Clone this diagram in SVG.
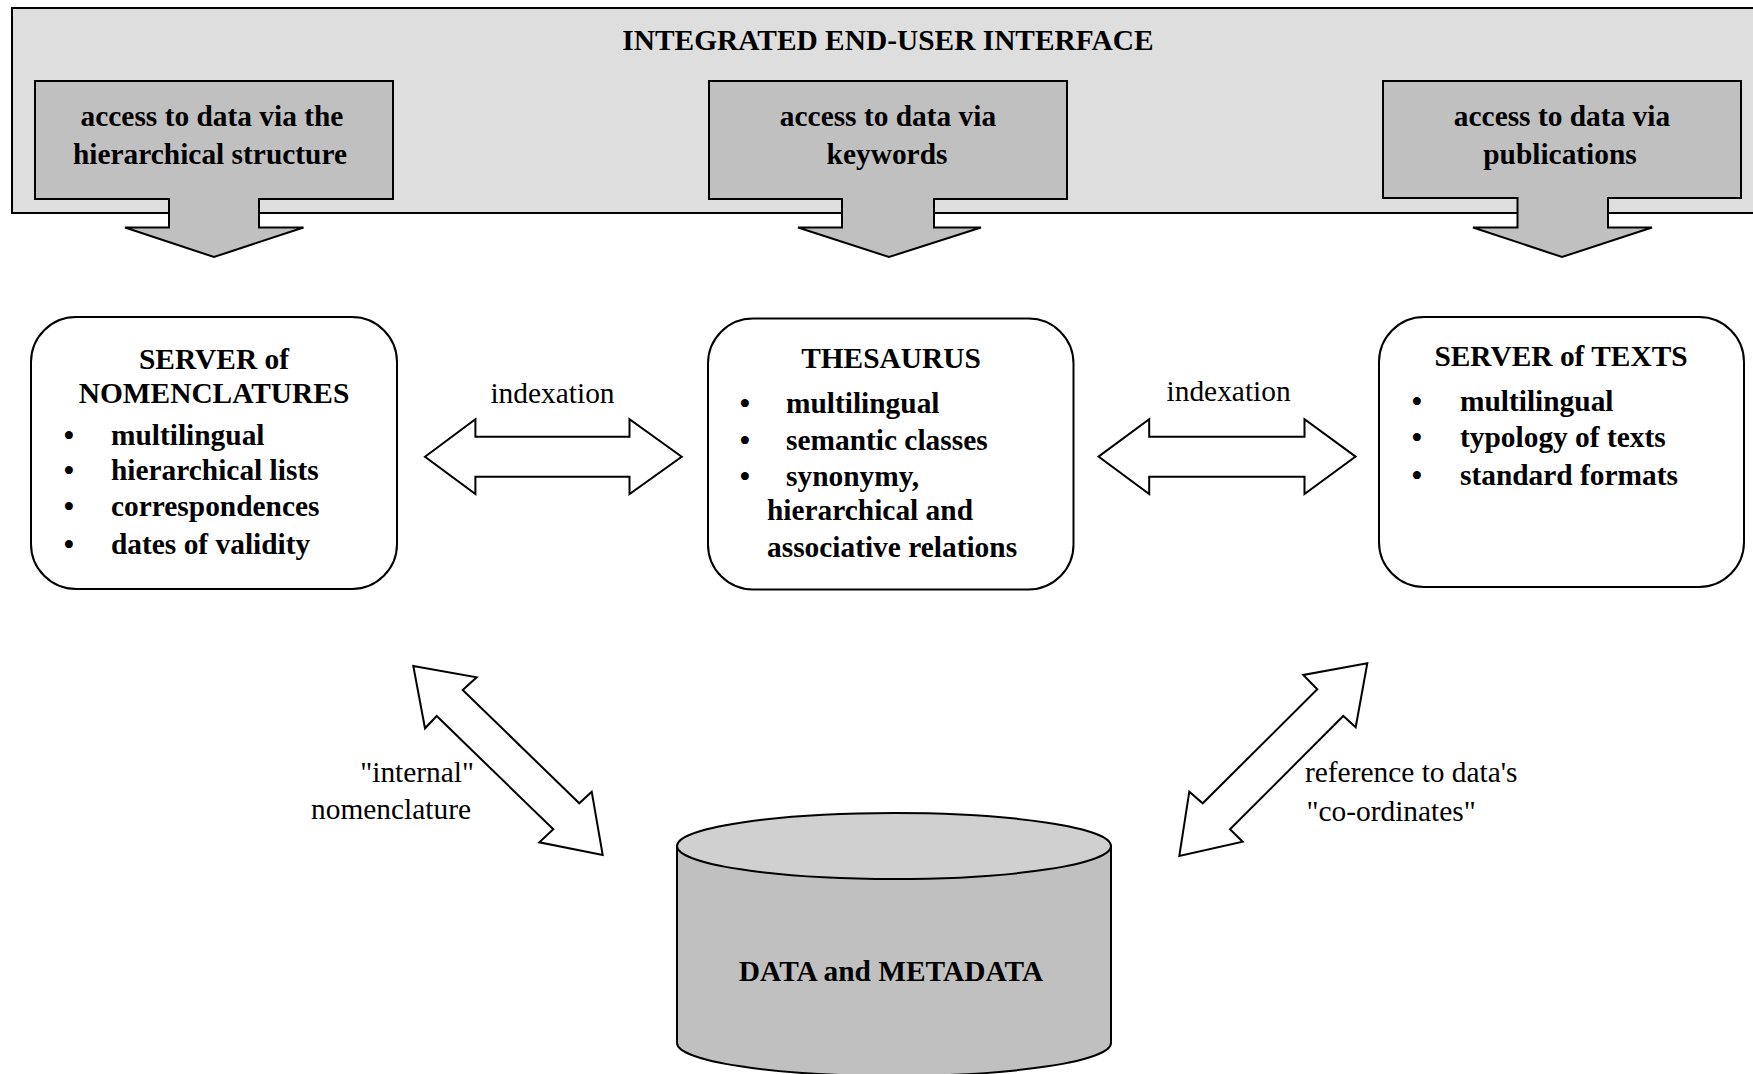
<svg xmlns="http://www.w3.org/2000/svg" width="1753" height="1074" viewBox="0 0 1753 1074">
  <style>
    .bold { font-family: "Liberation Serif", "Times New Roman", serif; font-weight: bold; font-size: 29.4px; fill: #000; }
    .reg { font-family: "Liberation Serif", "Times New Roman", serif; font-size: 29.4px; fill: #000; }
    .mid { text-anchor: middle; }
    .end { text-anchor: end; }
    .outline { stroke: #000; stroke-width: 2; stroke-linejoin: miter; }
    .access { fill: #c0c0c0; }
    .node { fill: #fff; }
    .dbl { fill: #fff; stroke: #000; stroke-width: 2; stroke-linejoin: miter; }
  </style>
  <rect width="1753" height="1074" fill="#fff"/>

  <!-- end-user interface band -->
  <g id="interface">
    <rect x="12" y="8" width="1760" height="205" fill="#dedede" class="outline"/>
    <text class="bold mid" x="888" y="50">INTEGRATED END-USER INTERFACE</text>
  </g>

  <!-- access routes: box with downward block arrow -->
  <g id="access-hierarchy">
    <path class="access outline" d="M35,81 H393 V199 H259 V227.5 H303.5 L214,257 L125,227.5 H169 V199 H35 Z"/>
    <text class="bold mid" x="212" y="126">access to data via the</text>
    <text class="bold mid" x="210" y="164">hierarchical structure</text>
  </g>
  <g id="access-keywords">
    <path class="access outline" d="M709,81 H1067 V199 H934 V227.5 H981 L889,257 L798,227.5 H842 V199 H709 Z"/>
    <text class="bold mid" x="888" y="126">access to data via</text>
    <text class="bold mid" x="887" y="164">keywords</text>
  </g>
  <g id="access-publications">
    <path class="access outline" d="M1383,81 H1741 V198 H1608 V227.5 H1652 L1562,257 L1473,227.5 H1517.5 V198 H1383 Z"/>
    <text class="bold mid" x="1562" y="126">access to data via</text>
    <text class="bold mid" x="1560" y="164">publications</text>
  </g>

  <!-- servers and thesaurus -->
  <g id="server-nomenclatures">
    <rect class="node outline" x="31" y="317" width="366" height="272" rx="45" ry="45"/>
    <text class="bold mid" x="214" y="368.5">SERVER of</text>
    <text class="bold mid" x="214" y="403">NOMENCLATURES</text>
    <text class="bold mid" x="69" y="445">•</text>
    <text class="bold" x="111" y="445">multilingual</text>
    <text class="bold mid" x="69" y="480">•</text>
    <text class="bold" x="111" y="480">hierarchical lists</text>
    <text class="bold mid" x="69" y="516">•</text>
    <text class="bold" x="111" y="516">correspondences</text>
    <text class="bold mid" x="69" y="554">•</text>
    <text class="bold" x="111" y="554">dates of validity</text>
  </g>

  <g id="thesaurus">
    <rect class="node outline" x="708" y="318.5" width="365.5" height="271" rx="45" ry="45"/>
    <text class="bold mid" x="891" y="368">THESAURUS</text>
    <text class="bold mid" x="745" y="413">•</text>
    <text class="bold" x="786" y="413">multilingual</text>
    <text class="bold mid" x="745" y="449.5">•</text>
    <text class="bold" x="786" y="449.5">semantic classes</text>
    <text class="bold mid" x="745" y="486">•</text>
    <text class="bold" x="786" y="486">synonymy,</text>
    <text class="bold" x="767" y="520">hierarchical and</text>
    <text class="bold" x="767" y="557">associative relations</text>
  </g>

  <g id="server-texts">
    <rect class="node outline" x="1379" y="317" width="365" height="270" rx="45" ry="45"/>
    <text class="bold mid" x="1561" y="366">SERVER of TEXTS</text>
    <text class="bold mid" x="1417" y="410.5">•</text>
    <text class="bold" x="1460" y="410.5">multilingual</text>
    <text class="bold mid" x="1417" y="446.5">•</text>
    <text class="bold" x="1460" y="446.5">typology of texts</text>
    <text class="bold mid" x="1417" y="485">•</text>
    <text class="bold" x="1460" y="485">standard formats</text>
  </g>

  <!-- data store -->
  <g id="data-store">
    <path d="M677,846 V1043 A217,33 0 0 0 1111,1043 V846 Z" fill="#c0c0c0" class="outline"/>
    <ellipse cx="894" cy="846" rx="217" ry="33" fill="#d0d0d0" class="outline"/>
    <text class="bold mid" x="891" y="981">DATA and METADATA</text>
  </g>

  <!-- two-way block arrows and their labels -->
  <g id="connectors">
    <path class="dbl" d="M425,456.7 L475.4,419.3 V436.7 H629.5 V419.3 L681.7,456.7 L629.5,494 V476.7 H475.4 V494 Z"/>
    <text class="reg mid" x="552.5" y="403">indexation</text>

    <path class="dbl" d="M1098.5,456.6 L1149.2,419.3 V436.7 H1304.5 V419.3 L1355.6,456.6 L1304.5,494 V476.7 H1149.2 V494 Z"/>
    <text class="reg mid" x="1228.6" y="401">indexation</text>

    <polygon class="dbl" points="413.3,666 476.7,677.3 462.7,690 579.3,803.3 591.7,791.7 602.7,855 539.3,842.3 553.3,829.3 436.7,716 425,728.3"/>
    <text class="reg end" x="474" y="782">"internal"</text>
    <text class="reg end" x="471" y="818.5">nomenclature</text>

    <polygon class="dbl" points="1367.3,663.3 1355.7,727.3 1343.3,716 1230,829.3 1242.7,841.7 1179.3,856 1189.3,791.7 1202.7,803.3 1317.3,689.3 1303.3,675"/>
    <text class="reg" x="1305" y="782">reference to data's</text>
    <text class="reg" x="1306.5" y="820.5">"co-ordinates"</text>
  </g>
</svg>
